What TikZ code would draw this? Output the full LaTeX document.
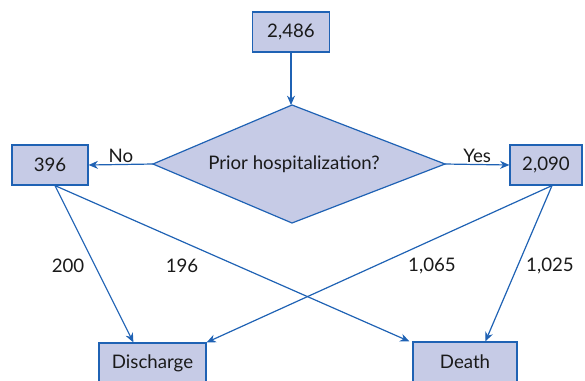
\documentclass[tikz,border=0pt]{standalone}
\usepackage{fontspec}
\setmainfont{Lato}
\usetikzlibrary{arrows.meta,calc}
\definecolor{boxfill}{HTML}{C6CBE6}
\definecolor{boxline}{HTML}{1F62B4}
\definecolor{txt}{HTML}{1A1A1A}
\begin{document}
\begin{tikzpicture}[x=0.75pt,y=-0.75pt,
  box/.style={draw=boxline,fill=boxfill,line width=0.9pt,minimum height=30pt,inner sep=0pt,
    font=\fontsize{14}{16}\selectfont,text=txt},
  shapeline/.style={draw=boxline,fill=boxfill,line width=0.9pt,line join=miter},
  arr/.style={draw=boxline,line width=0.9pt,-{Stealth[length=7pt,width=6pt]}},
  lbl/.style={font=\fontsize{14}{16}\selectfont,text=txt,inner sep=1pt}]
\useasboundingbox (0,0) rectangle (585,380);
\node[box,minimum width=57.75pt] (top) at (291,32) {2,486};
% decision diamond
\coordinate (dN) at (292,105);
\coordinate (dW) at (153,164);
\coordinate (dE) at (445,164);
\coordinate (dS) at (292,223);
\draw[shapeline] (dN) -- (dE) -- (dS) -- (dW) -- cycle;
\node[lbl] (dia) at (294,164) {Prior hospitalization?};
\node[box,minimum width=57pt] (n396) at (50,165) {396};
\node[box,minimum width=54pt] (n2090) at (546,165) {2,090};
\node[box,minimum width=80.25pt] (dis) at (152.5,363) {Discharge};
\node[box,minimum width=78pt] (dea) at (465,362) {Death};
\draw[arr] (top.south) -- (top.south |- dN);
\draw[arr] (dW) -- node[lbl,above] (no) {No} (n396.east);
\draw[arr] (dE) -- node[lbl,above] (yes) {Yes} (n2090.west);
\coordinate (s1) at ($(n396.south)+(5,0)$);
\coordinate (s2) at ($(n2090.south)+(6,0)$);
\draw[arr] (s1) -- ($(dis.north west)+(35,0)$);
\draw[arr] (s1) -- ($(dea.north west)+(-3,0)$);
\draw[arr] (s2) -- (dis.north east);
\draw[arr] (s2) -- ($(dea.north west)+(73,0)$);
\node[lbl] (l200) at (68,266) {200};
\node[lbl] (l196) at (182,266) {196};
\node[lbl] (l1065) at (432,266) {1,065};
\node[lbl] (l1025) at (550,266) {1,025};
\end{tikzpicture}
\end{document}
